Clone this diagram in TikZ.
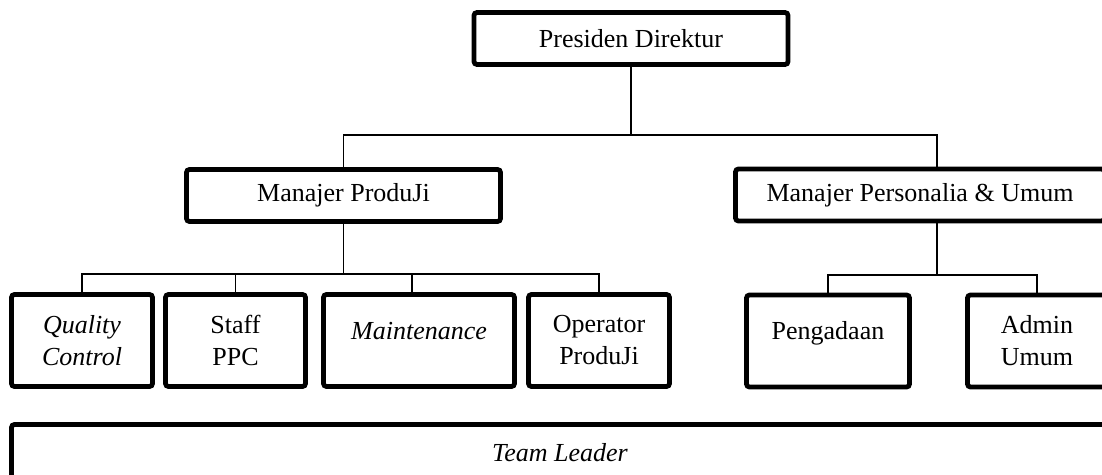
\documentclass[tikz,border=0pt]{standalone}
\usepackage{fontspec}
\setmainfont{Liberation Serif}
\tikzset{
  jabatan/.style={draw, line width=2.4pt, rounded corners=1.5pt, align=center,
    minimum height=46pt, inner sep=2pt, font=\fontsize{13pt}{16pt}\selectfont},
  kepala/.style={jabatan, minimum height=26pt},
  satubaris/.style={text height=9pt, text depth=10pt},
  garis/.style={line width=0.75pt}
}
\begin{document}
\begin{tikzpicture}[x=0.5pt, y=-0.5pt]
\useasboundingbox (0,0) rectangle (1102,475);
\clip (0,0) rectangle (1102,475);
\node[kepala, minimum width=157pt] (pd) at (631,38.5) {Presiden Direktur};
\node[kepala, minimum width=157pt] (mp) at (343.5,195.5) {Manajer ProduJi};
\node[kepala, minimum width=184.5pt] (mpu) at (920,195) {Manajer Personalia \& Umum};

\node[jabatan, minimum width=70.5pt] (qc) at (82,340.5) {\textit{Quality}\\\textit{Control}};
\node[jabatan, minimum width=70pt] (ppc) at (235.5,340.5) {Staff\\PPC};
\node[jabatan, satubaris, minimum width=95.5pt] (mt) at (419,340.5) {\textit{Maintenance}};
\node[jabatan, minimum width=70.5pt] (op) at (599,340.5) {Operator\\ProduJi};
\node[jabatan, satubaris, minimum width=81.5pt] (pg) at (828,341) {Pengadaan};
\node[jabatan, minimum width=69.5pt] (au) at (1037,341) {Admin\\Umum};

\node[jabatan, minimum width=548.5pt, minimum height=28.5pt] (tl) at (560,453) {\textit{Team Leader}};

\coordinate (k1) at (937,135);
\coordinate (k2) at (937,275);
\coordinate (m3) at (412,274);

\draw[garis] (pd.south) -- (pd.south |- k1);
\draw[garis] (mp.north) |- (k1) -- (k1 |- mpu.north);

\draw[garis] (mp.south) -- (mp.south |- m3);
\draw[garis] (qc.north) |- (m3) -| (op.north);
\draw[garis] (ppc.north) -- (ppc.north |- m3);
\draw[garis] (m3) -- (m3 |- mt.north);

\draw[garis] (k2 |- mpu.south) -- (k2);
\draw[garis] (pg.north) |- (k2) -| (au.north);
\end{tikzpicture}
\end{document}
